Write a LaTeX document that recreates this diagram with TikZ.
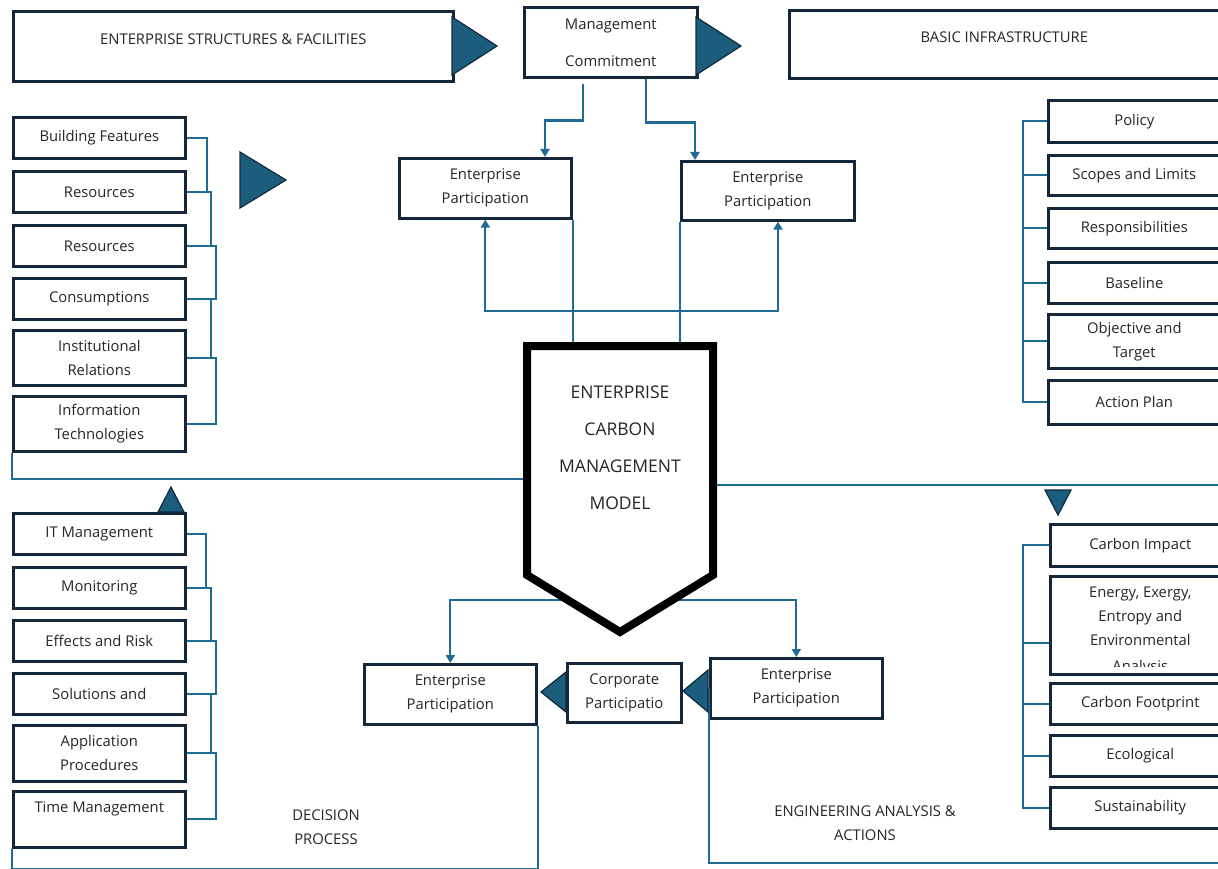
\documentclass[tikz,border=0pt]{standalone}
\usepackage{fontspec}
\setmainfont{Open Sans}
\usetikzlibrary{positioning,calc,arrows.meta}
\definecolor{boxc}{HTML}{14263A}
\definecolor{linec}{HTML}{1F6B93}
\definecolor{trifill}{HTML}{1C5D7E}
\definecolor{triline}{HTML}{0F2A3C}
\begin{document}
\begin{tikzpicture}[x=1pt,y=-1pt,
  txt/.style={font=\fontsize{14.8}{24}\selectfont, text=black!85, align=center},
  box/.style={txt, draw=boxc, line width=2.6pt, fill=white, inner sep=0pt, anchor=north west},
  lbox/.style={box, minimum width=172, minimum height=41},
  rbox/.style={box, minimum width=180, minimum height=41},
  conn/.style={draw=linec, line width=2.2pt},
  arr/.style={conn, -{Triangle[length=8pt,width=9pt]}},
  tri/.style={fill=trifill, draw=triline, line width=1.2pt, line join=miter}]
\clip (0,0) rectangle (1218,869);

\node[box, minimum width=440, minimum height=70, text depth=15pt] (esf) at (12,10) {ENTERPRISE STRUCTURES \& FACILITIES};
\node[box, minimum width=173, minimum height=70] (mc) at (523,6) {Management\\[13pt]Commitment};
\node[box, minimum width=430, minimum height=68, text depth=15pt] (bi) at (788,9) {BASIC INFRASTRUCTURE};
\node[box, minimum width=172, minimum height=60] (epa) at (398,157) {Enterprise\\Participation};
\node[box, minimum width=173, minimum height=59] (epb) at (680,160) {Enterprise\\Participation};

\node[lbox] (bf) at (12,116) {Building Features};
\node[lbox] (resa) at (12,170) {Resources};
\node[lbox] (resb) at (12,224) {Resources};
\node[lbox] (cons) at (12,277) {Consumptions};
\node[lbox, minimum height=55] (inst) at (12,329) {Institutional\\Relations};
\node[lbox, minimum height=55] (itech) at (12,395) {Information\\Technologies};

\node[lbox] (itm) at (12,512) {IT Management};
\node[lbox] (mon) at (12,566) {Monitoring};
\node[lbox] (eff) at (12,619) {Effects and Risk};
\node[lbox] (sol) at (12,672) {Solutions and};
\node[lbox, minimum height=56] (app) at (12,724) {Application\\Procedures};
\node[lbox, minimum height=56] (time) at (12,790) {Time Management\\~};

\node[lbox, minimum height=42] (pol) at (1047,99) {Policy};
\node[lbox, minimum height=40] (scope) at (1047,154) {Scopes and Limits};
\node[lbox, minimum height=40] (resp) at (1047,207) {Responsibilities};
\node[lbox] (base) at (1047,261) {Baseline};
\node[lbox, minimum height=54] (obj) at (1047,313) {Objective and\\Target};
\node[lbox, minimum height=44] (act) at (1047,379) {Action Plan};

\node[rbox, minimum height=42] (cimp) at (1049,523) {Carbon Impact};
\node[rbox, minimum height=98] (energy) at (1049,575) {Energy, Exergy,\\Entropy and\\Environmental\\[-10pt]\phantom{Analysis}};
\begin{scope}
\clip (1049,575) rectangle (1230,666);
\node[txt] (anal) at ($(energy.south)+(0,8pt)$) {Analysis};
\end{scope}
\node[rbox] (cfoot) at (1049,682) {Carbon Footprint};
\node[rbox] (eco) at (1049,734) {Ecological};
\node[rbox] (sust) at (1049,786) {Sustainability};

\node[box, minimum width=172, minimum height=60] (epc) at (363,663) {Enterprise\\Participation};
\node[box, minimum width=114, minimum height=59] (corp) at (566,662) {Corporate\\Participatio};
\node[box, minimum width=172, minimum height=60] (epd) at (709,657) {Enterprise\\Participation};

\node[txt] (dec) at (326,827) {DECISION\\PROCESS};
\node[txt] (eng) at (865,823) {ENGINEERING ANALYSIS \&\\ACTIONS};

\coordinate (mN) at (620,346);
\coordinate (mW) at (527,479);
\coordinate (mE) at (713,485);
\coordinate (mS) at (620,600);
\coordinate (hub) at (657,311);
\coordinate (brEnd) at (1230,863);

\draw[arr] ([xshift=60pt,yshift=-5pt]mc.south west) -- ++(0,37) -| ([xshift=147pt]epa.north west);
\draw[arr] ([xshift=123pt]mc.south west) -- ++(0,44) -| ([xshift=15pt]epb.north west);
\draw[arr] (hub) -| (epa.south);
\draw[arr] (hub) -| ([xshift=98pt]epb.south west);
\draw[conn] (epa.south east) -- (epa.south east |- mN);
\draw[conn] (epb.south west) -- (epb.south west |- mN);
\draw[conn] (mW) -| (itech.south west);
\draw[conn] (mE) -| (act.south east);
\draw[arr] (mS) -| (epc.north);
\draw[arr] (mS) -| (epd.north);
\draw[conn] (epc.south east) -- ++(0,143) -| (time.south west);
\draw[conn] (epd.west) |- (brEnd);

\draw[conn] (bf.east) -- ++(20,0) |- (resa.east);
\draw[conn] (resa.east) -- ++(24,0) |- (resb.east);
\draw[conn] (resb.east) -- ++(29,0) |- (cons.east);
\draw[conn] (cons.east) -- ++(24,0) |- (inst.east);
\draw[conn] (inst.east) -- ++(29,0) |- (itech.east);

\draw[conn] (itm.east) -- ++(19,0) |- (mon.east);
\draw[conn] (mon.east) -- ++(24,0) |- (eff.east);
\draw[conn] (eff.east) -- ++(29,0) |- (sol.east);
\draw[conn] (sol.east) -- ++(24,0) |- (app.east);
\draw[conn] (app.east) -- ++(29,0) |- (time.east);

\draw[conn] (pol.west) -- ++(-24,0) |- (act.west);
\foreach \n in {scope,resp,base,obj}
  \draw[conn] (\n.west) -- ++(-24,0);
\draw[conn] (cimp.west) -- ++(-26,0) |- (sust.west);
\draw[conn] ([yshift=-18pt]energy.west) -- ++(-26,0);
\foreach \n in {cfoot,eco}
  \draw[conn] (\n.west) -- ++(-26,0);

\draw[line width=8pt, fill=white, line join=miter] (527,346) -- (713,346) -- (713,575) -- (620,632) -- (527,575) -- cycle;
\node[txt, font=\fontsize{17.5}{37}\selectfont] (model) at (620,448) {ENTERPRISE\\CARBON\\MANAGEMENT\\MODEL};

\draw[tri] (452,17) -- (497,46) -- (452,75) -- cycle;
\draw[tri] (696,17) -- (741,46) -- (696,75) -- cycle;
\draw[tri] (240,152) -- (286,180) -- (240,208) -- cycle;
\draw[tri] (158,512) -- (171,487) -- (184,512) -- cycle;
\draw[tri] (1045,490) -- (1071,490) -- (1058,515) -- cycle;
\draw[tri] (566,672) -- (541,692) -- (566,712) -- cycle;
\draw[tri] (708,670) -- (683,691) -- (708,712) -- cycle;
\end{tikzpicture}
\end{document}
